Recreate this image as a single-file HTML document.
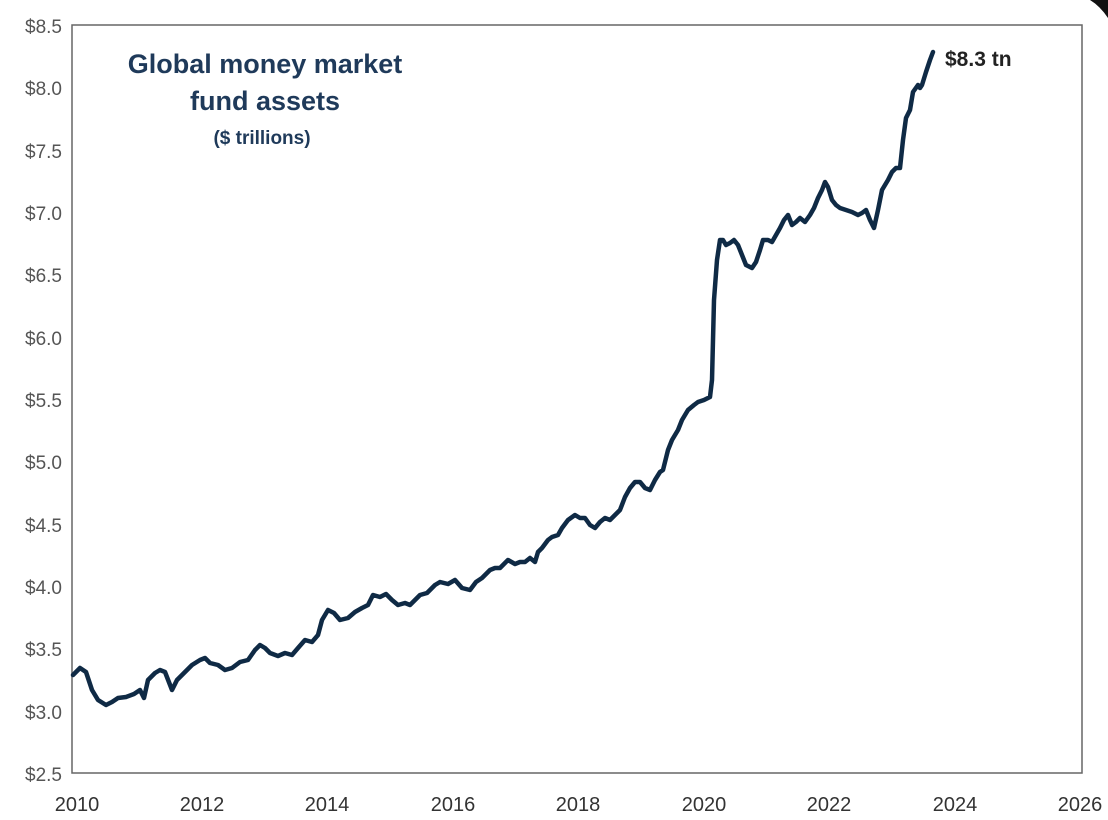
<!DOCTYPE html>
<html><head><style>
body{margin:0;background:#fff;}
svg{display:block;font-family:"Liberation Sans",Arial,sans-serif;}
</style></head><body>
<svg width="1108" height="820" viewBox="0 0 1108 820">
<rect x="0" y="0" width="1108" height="820" fill="#fff"/>
<path d="M1090,0 L1108,0 L1108,18 Q1100,6 1090,0Z" fill="#111"/>
<rect x="72" y="25" width="1010" height="748" fill="#fff" stroke="#666" stroke-width="1.5"/>
<g fill="#555" font-size="19" text-anchor="end">
<text x="62" y="33">$8.5</text><text x="62" y="95">$8.0</text><text x="62" y="158">$7.5</text>
<text x="62" y="220">$7.0</text><text x="62" y="282">$6.5</text><text x="62" y="345">$6.0</text>
<text x="62" y="407">$5.5</text><text x="62" y="469">$5.0</text><text x="62" y="532">$4.5</text>
<text x="62" y="594">$4.0</text><text x="62" y="656">$3.5</text><text x="62" y="719">$3.0</text>
<text x="62" y="781">$2.5</text>
</g>
<g fill="#333" font-size="20" text-anchor="middle">
<text x="77" y="811">2010</text><text x="202" y="811">2012</text><text x="327" y="811">2014</text>
<text x="453" y="811">2016</text><text x="578" y="811">2018</text><text x="704" y="811">2020</text>
<text x="829" y="811">2022</text><text x="955" y="811">2024</text><text x="1080" y="811">2026</text>
</g>
<g fill="#1f3a5a" font-weight="bold" text-anchor="middle">
<text x="265" y="73" font-size="27">Global money market</text>
<text x="265" y="110" font-size="27">fund assets</text>
<text x="262" y="144" font-size="19">($ trillions)</text>
</g>
<text x="945" y="66" font-size="21" font-weight="bold" fill="#222">$8.3 tn</text>
<polyline fill="none" stroke="#0f2a45" stroke-width="4.5" stroke-linejoin="round" stroke-linecap="round" points="73,675 80,668 86,672 92,690 98,700 106,705 112,702 118,698 126,697 134,694 140,690 144,698 148,680 155,673 160,670 165,672 172,690 177,680 185,672 192,665 200,660 205,658 210,663 218,665 225,670 232,668 240,662 248,660 255,650 260,645 265,648 270,653 278,656 285,653 292,655 298,648 305,640 312,642 318,635 322,620 328,610 334,613 340,620 348,618 355,612 362,608 368,605 373,595 380,597 386,594 392,600 398,605 405,603 410,605 415,600 420,595 427,593 430,590 435,585 440,582 448,584 455,580 462,588 470,590 476,582 482,578 490,570 495,568 500,568 508,560 515,564 520,562 525,562 530,558 535,562 538,552 542,548 548,540 552,537 558,535 562,528 568,520 575,515 580,518 585,518 590,525 595,528 600,522 605,518 610,520 615,515 620,510 625,497 630,488 635,482 640,482 645,488 650,490 655,480 660,472 663,470 668,450 672,440 678,430 682,420 688,410 694,405 698,402 704,400 710,397 712,380 714,300 717,260 720,240 723,240 726,245 730,243 734,240 738,245 742,255 746,265 752,268 756,262 760,250 763,240 768,240 772,242 776,235 780,228 784,220 788,215 792,225 796,222 800,218 805,222 810,215 814,208 818,198 822,190 825,182 828,187 832,200 836,205 840,208 846,210 852,212 858,215 862,213 866,210 870,220 874,228 878,210 882,190 888,180 892,172 896,168 900,168 903,140 906,118 910,110 913,92 918,85 920,88 922,85 926,72 930,60 933,52"/>
</svg>
</body></html>
